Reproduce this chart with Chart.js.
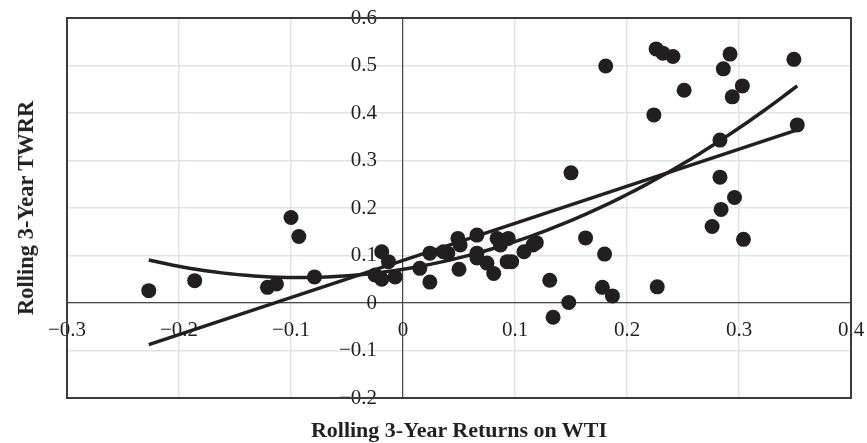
<!DOCTYPE html>
<html>
<head>
<meta charset="utf-8">
<script src="https://cdn.jsdelivr.net/npm/chart.js@4/dist/chart.umd.min.js"></script>
<style>
  html, body { margin: 0; padding: 0; background: #fff; }
  #wrap { position: relative; width: 867px; height: 443px; }
  canvas { position: absolute; left: 0; top: 0; }
  .title { position: absolute; font-family: "Liberation Serif", "Times New Roman", serif; font-weight: bold; color: #231f20; white-space: nowrap; }
  #xt { left: 459px; top: 430px; font-size: 22px; transform: translate(-50%, -50%); }
  #yt { left: 26px; top: 208px; font-size: 22.5px; transform: translate(-50%, -50%) rotate(-90deg); }
</style>
</head>
<body>
<div id="wrap">
  <canvas id="c" width="867" height="443"></canvas>
  <div class="title" id="xt">Rolling 3-Year Returns on WTI</div>
  <div class="title" id="yt">Rolling 3-Year TWRR</div>
</div>
<script>
// Scatter data
const wtiReturns = [
  -0.227, -0.186, -0.121, -0.113, -0.100, -0.093, -0.079,
  -0.019, -0.013, -0.025, -0.019, -0.007, 0.015, 0.024, 0.024,
  0.036, 0.040, 0.049, 0.051, 0.050, 0.066, 0.066, 0.066,
  0.075, 0.081, 0.084, 0.087, 0.094, 0.093, 0.097, 0.108,
  0.116, 0.119, 0.131, 0.134, 0.148, 0.150, 0.163, 0.180,
  0.178, 0.187, 0.181, 0.227, 0.226, 0.232, 0.241, 0.251,
  0.224, 0.283, 0.286, 0.292, 0.294, 0.303, 0.283, 0.296,
  0.284, 0.276, 0.304, 0.349, 0.352
];
const twrr = [
  0.026, 0.047, 0.033, 0.040, 0.180, 0.140, 0.055,
  0.108, 0.087, 0.059, 0.050, 0.055, 0.073, 0.044, 0.105,
  0.108, 0.105, 0.136, 0.122, 0.071, 0.143, 0.105, 0.095,
  0.084, 0.062, 0.136, 0.122, 0.136, 0.087, 0.087, 0.108,
  0.122, 0.127, 0.048, -0.030, 0.001, 0.274, 0.137, 0.103,
  0.033, 0.015, 0.499, 0.034, 0.535, 0.526, 0.519, 0.448,
  0.396, 0.343, 0.493, 0.524, 0.434, 0.457, 0.265, 0.222,
  0.197, 0.161, 0.134, 0.513, 0.375
];
// Trend lines
const trendRange = [-0.227, 0.352];
const linearCoef = [0.0896, 0.781];          // c0 + c1*x
const polyCoef = [0.071, 0.3778, 2.044];     // c0 + c1*x + c2*x^2
const xTicks = [-0.3, -0.2, -0.1, 0, 0.1, 0.2, 0.3, 0.4];
const yTicks = [-0.2, -0.1, 0, 0.1, 0.2, 0.3, 0.4, 0.5, 0.6];

const scatterPts = wtiReturns.map((x, i) => ({ x: x, y: twrr[i] }));
const linPts = trendRange.map(x => ({ x: x, y: linearCoef[0] + linearCoef[1] * x }));
const polyPts = [];
const nSamp = 80;
for (let i = 0; i <= nSamp; i++) {
  const x = trendRange[0] + (trendRange[1] - trendRange[0]) * i / nSamp;
  polyPts.push({ x: x, y: polyCoef[0] + polyCoef[1] * x + polyCoef[2] * x * x });
}

const fmt = v => {
  const r = Math.round(v * 10) / 10;
  if (r === 0) return '0';
  return (r < 0 ? '\u2212' : '') + Math.abs(r).toString();
};

const INK = '#231f20';
const GRID = '#dde3eb';
const Y_LABEL_GAP = 26;

const noPad = s => { s.paddingLeft = 0; s.paddingRight = 0; s.paddingTop = 0; s.paddingBottom = 0; };

const framePlugin = {
  id: 'frame',
  beforeDraw(chart) {
    // shift the y tick labels left of the centred axis
    const ys = chart.scales.y;
    const items = ys.getLabelItems(chart.chartArea);
    items.forEach(it => {
      if (!it._shifted) { it.options.translation[0] -= Y_LABEL_GAP; it._shifted = true; }
    });
  },
  afterDatasetsDraw(chart) {
    const a = chart.chartArea, ctx = chart.ctx;
    ctx.save();
    ctx.strokeStyle = '#3b3b3b';
    ctx.lineWidth = 2;
    ctx.strokeRect(a.left, a.top, a.right - a.left, a.bottom - a.top);
    ctx.restore();
  }
};

new Chart(document.getElementById('c'), {
  type: 'scatter',
  data: {
    datasets: [
      { data: scatterPts, backgroundColor: INK, borderColor: INK, pointRadius: 7.5, pointHoverRadius: 7.5, borderWidth: 0, order: 2 },
      { type: 'line', data: linPts, borderColor: INK, borderWidth: 3.5, pointRadius: 0, fill: false, tension: 0, order: 1 },
      { type: 'line', data: polyPts, borderColor: INK, borderWidth: 3.5, pointRadius: 0, fill: false, tension: 0, order: 1 }
    ]
  },
  options: {
    responsive: false,
    animation: false,
    events: [],
    layout: { padding: { left: 67, right: 16, top: 18, bottom: 45 } },
    plugins: { legend: { display: false }, tooltip: { enabled: false } },
    scales: {
      x: {
        type: 'linear', min: -0.3, max: 0.4,
        position: { y: 0 },
        afterBuildTicks: s => { s.ticks = xTicks.map(v => ({ value: v })); },
        afterFit: noPad,
        ticks: { callback: fmt, color: INK, padding: 15, maxRotation: 0, autoSkip: false,
                 font: { family: '"Liberation Serif", "Times New Roman", serif', size: 21 } },
        grid: { color: GRID, lineWidth: 1.5, drawTicks: false },
        border: { color: '#4a4a4a', width: 1.2 }
      },
      y: {
        type: 'linear', min: -0.2, max: 0.6,
        position: { x: 0 },
        afterBuildTicks: s => { s.ticks = yTicks.map(v => ({ value: v })); },
        afterFit: noPad,
        ticks: { callback: fmt, color: INK, padding: 0, autoSkip: false,
                 font: { family: '"Liberation Serif", "Times New Roman", serif', size: 21 } },
        grid: { color: GRID, lineWidth: 1.5, drawTicks: false },
        border: { color: '#4a4a4a', width: 1.2 }
      }
    }
  },
  plugins: [framePlugin]
});
</script>
</body>
</html>
